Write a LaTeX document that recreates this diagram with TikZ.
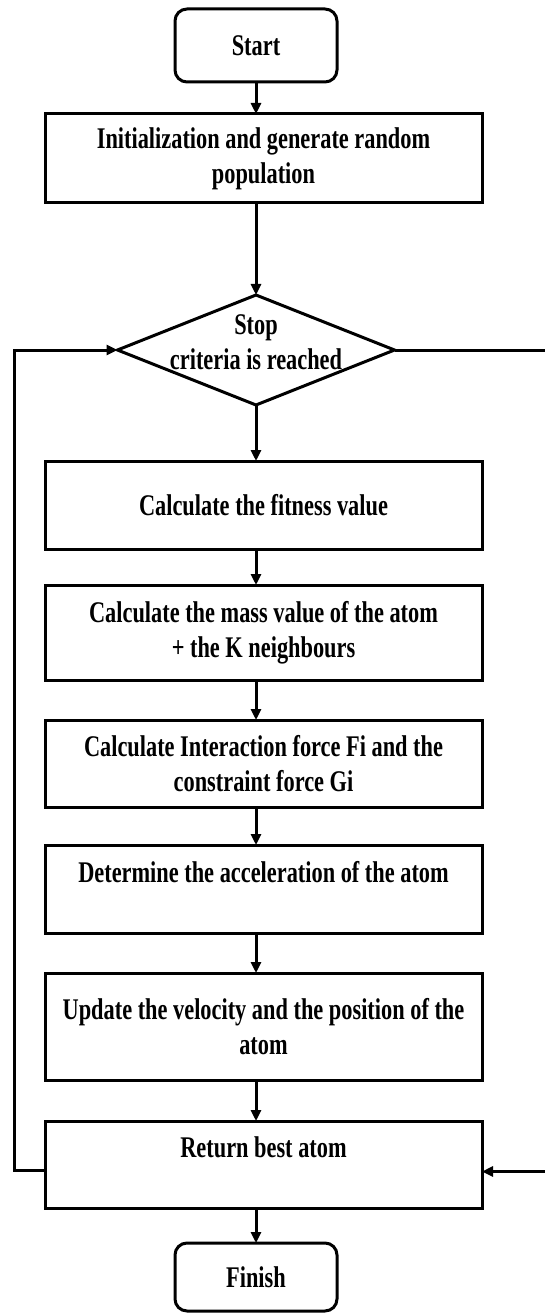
\documentclass[tikz,border=0pt]{standalone}
\usepackage{fontspec}
\setmainfont{Liberation Serif}[FakeStretch=0.745]
\usetikzlibrary{arrows.meta, positioning, shapes.geometric}

\begin{document}
\begin{tikzpicture}[
    x=1pt, y=-1pt,
    every node/.style={font=\bfseries\fontsize{30}{35}\selectfont},
    % Start / Finish
    termbox/.style={
      rectangle, draw, line width=3pt, rounded corners=12pt,
      minimum width=162pt, minimum height=73pt, outer sep=0pt
    },
    % Process step
    procbox/.style={
      rectangle, draw, line width=3pt, align=center,
      minimum width=437pt, outer sep=0pt
    },
    % Decision
    decbox/.style={
      diamond, draw, line width=3pt, inner sep=0pt,
      minimum width=277pt, minimum height=110pt, outer sep=0pt
    },
    % Flow arrow
    flowarr/.style={-{Triangle[length=11pt, width=10pt]}, line width=3pt}
  ]

  \useasboundingbox (0,0) rectangle (545,1313);

  % ============ Nodes ============
  \node[termbox] (start) at (256,45.5) {Start};
  \node[procbox, minimum height=89pt, below=32pt of start, xshift=7.5pt] (init)
    {Initialization and generate random\\population};
  \node[decbox, below=92pt of init, xshift=-7.5pt] (dec) {};
  \node[align=center, yshift=8pt] (dectxt) at (dec) {Stop\\criteria is reached};
  \node[procbox, minimum height=88pt, below=56pt of dec, xshift=7.5pt] (fit)
    {Calculate the fitness value};
  \node[procbox, minimum height=95pt, below=36pt of fit] (mass)
    {Calculate the mass value of the atom\\+ the K neighbours};
  \node[procbox, minimum height=87pt, below=40pt of mass] (force)
    {Calculate Interaction force Fi and the\\constraint force Gi};
  \node[procbox, minimum height=88pt, below=38pt of force] (acc)
    {Determine the acceleration of the atom\\\mbox{}};
  \node[procbox, minimum height=107pt, below=40pt of acc] (upd)
    {Update the velocity and the position of the\\atom};
  \node[procbox, minimum height=87pt, below=41pt of upd] (ret)
    {Return best atom\\\mbox{}};
  \node[termbox, minimum height=68pt, below=35pt of ret, xshift=-7.5pt] (finish) {Finish};

  % ============ Main flow ============
  \draw[flowarr] (start.south) -- (start.south |- init.north);
  \draw[flowarr] (dec.north |- init.south) -- (dec.north);
  \draw[flowarr] (dec.south) -- (dec.south |- fit.north);
  \foreach \a/\b in {fit/mass, mass/force, force/acc, acc/upd, upd/ret}
    \draw[flowarr] (\a.south -| dec.south) -- (\b.north -| dec.south);
  \draw[flowarr] (ret.south -| finish.north) -- (finish.north);

  % ============ Loops ============
  \coordinate (lft) at (14,0);
  \coordinate (rgt) at (560,0);
  \draw[flowarr] ([yshift=-6pt]ret.west) -- ([yshift=-6pt]ret.west -| lft) |- (dec.west);
  \draw[flowarr] (dec.east) -- (dec.east -| rgt) |- ([yshift=-7pt]ret.east);

\end{tikzpicture}
\end{document}
